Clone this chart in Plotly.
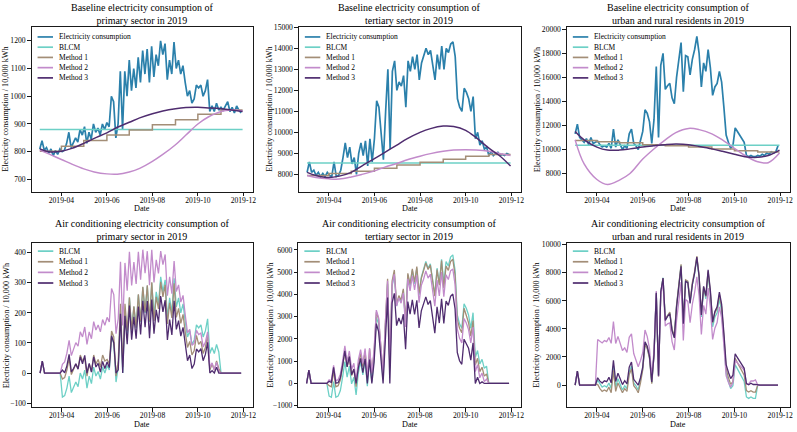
import pandas as pd
import plotly.graph_objects as go

W, H = 797, 432
FONT = "Liberation Serif"

# ---------------- data ----------------
grid_dates = pd.date_range("2019-03-03", periods=91, freq="3D")
curve_dates = pd.to_datetime([
    "2019-03-03", "2019-03-15", "2019-04-01", "2019-04-15", "2019-05-01", "2019-05-15",
    "2019-06-01", "2019-06-15", "2019-07-01", "2019-07-15", "2019-08-01", "2019-08-15",
    "2019-09-01", "2019-09-15", "2019-10-01", "2019-10-15", "2019-11-01", "2019-11-15",
    "2019-11-30"])
step_dates = pd.to_datetime([
    "2019-03-03", "2019-04-01", "2019-05-01", "2019-06-01", "2019-07-01", "2019-08-01",
    "2019-09-01", "2019-10-01", "2019-11-01", "2019-11-30"])
blcm_dates = pd.to_datetime(["2019-03-03", "2019-11-30"])

x_tick_vals = ["2019-04-01", "2019-06-01", "2019-08-01", "2019-10-01", "2019-12-01"]
x_tick_text = ["2019-04", "2019-06", "2019-08", "2019-10", "2019-12"]
x_range = ["2019-02-20", "2019-12-14"]

# --- primary sector ---
primary_elec = [810, 840, 805, 815, 795, 810, 785, 805, 790, 810,
                800, 805, 830, 870, 815, 830, 850, 835, 880, 860,
                890, 830, 870, 845, 900, 870, 885, 860, 900, 880,
                905, 890, 1000, 980, 850, 900, 1090, 880, 1090, 1000,
                1130, 1020, 1100, 1030, 1140, 1050, 1165, 1080, 1170, 1050,
                1180, 1070, 1150, 1110, 1200, 1150, 1190, 1060, 1130, 1080,
                1195, 1100, 1130, 1080, 1110, 1050, 1000, 1020, 975, 990,
                1040, 1030, 1040, 1000, 1020, 1060, 945, 965, 945, 975,
                950, 960, 950, 965, 980, 945, 960, 940, 965, 950, 940]
primary_blcm_level = 880
primary_m1_steps = [802, 820, 840, 860, 878, 897, 915, 935, 950, 950]
primary_m2_curve = [806, 792, 772, 755, 738, 727, 720, 719, 727, 740, 765, 790,
                    825, 860, 900, 925, 945, 950, 948]
primary_m3_curve = [810, 800, 802, 812, 830, 848, 868, 888, 906, 922, 937, 947,
                    955, 959, 960, 958, 955, 950, 945]

primary_ac_blcm = [0, 40, 0, 0, 0, 0, 0, 0, 0, 0,
                   -80, -75, -50, -10, -65, -50, -30, -45, 0, -20,
                   10, -50, -10, -35, 20, -10, 5, -20, 20, 0,
                   25, 10, 120, 100, -30, 20, 210, 0, 210, 120,
                   250, 140, 220, 150, 260, 170, 285, 200, 290, 170,
                   300, 190, 270, 230, 320, 270, 310, 180, 250, 200,
                   315, 220, 250, 200, 230, 170, 120, 140, 95, 110,
                   160, 150, 160, 120, 140, 180, 65, 85, 65, 95,
                   70, 0, 0, 0, 0, 0, 0, 0, 0, 0, 0]
primary_ac_m1 = [0, 40, 0, 0, 0, 0, 0, 0, 0, 0,
                 -20, -15, 10, 50, -5, 10, 30, 15, 60, 40,
                 50, -10, 30, 5, 60, 30, 45, 20, 60, 40,
                 45, 30, 140, 120, -10, 40, 230, 20, 230, 140,
                 252, 142, 222, 152, 262, 172, 287, 202, 292, 172,
                 302, 173, 253, 213, 303, 253, 293, 163, 233, 183,
                 298, 185, 215, 165, 195, 135, 85, 105, 60, 75,
                 125, 95, 105, 65, 85, 125, 10, 30, 10, 40,
                 15, 0, 0, 0, 0, 0, 0, 0, 0, 0, 0]
primary_ac_m2 = [0, 40, 0, 0, 0, 0, 0, 0, 0, 0,
                 29, 37, 66, 109, 58, 77, 101, 89, 137, 120,
                 153, 95, 137, 114, 171, 143, 160, 137, 178, 159,
                 185, 170, 281, 261, 131, 181, 370, 158, 366, 274,
                 403, 291, 369, 296, 403, 310, 410, 332, 405, 292,
                 410, 301, 376, 331, 405, 360, 394, 257, 320, 264,
                 372, 271, 293, 236, 258, 192, 134, 145, 92, 99,
                 142, 128, 133, 87, 102, 137, 18, 34, 10, 36,
                 7, 0, 0, 0, 0, 0, 0, 0, 0, 0, 0]
primary_ac_m3 = [0, 40, 0, 0, 0, 0, 0, 0, 0, 0,
                 10, 1, 24, 62, 4, 15, 31, 13, 54, 31,
                 59, 0, 32, 3, 54, 20, 32, 3, 39, 15,
                 37, 18, 124, 100, 0, 11, 197, 0, 190, 96,
                 224, 111, 187, 114, 221, 128, 240, 152, 239, 116,
                 244, 131, 210, 168, 256, 203, 242, 110, 178, 127,
                 240, 145, 174, 123, 152, 91, 41, 60, 15, 30,
                 80, 70, 81, 41, 62, 102, 0, 8, 0, 19,
                 0, 0, 0, 0, 0, 0, 0, 0, 0, 0, 0]

# --- tertiary sector ---
tertiary_elec = [8100, 8600, 8100, 8200, 7950, 8100, 7900, 8050, 7900, 8100,
                 7950, 7900, 8600, 7900, 7950, 8200, 8800, 9500, 8800, 9300,
                 8500, 8800, 8000, 9000, 9500, 8900, 9600, 8400, 9700, 8600,
                 9700, 11500, 11200, 10000, 8700, 11000, 13000, 9200, 12900, 13400,
                 12000, 12400, 12200, 12700, 11200, 13400, 12900, 13600, 13000, 13700,
                 12500, 13300, 13600, 14000, 13700, 13900, 13200, 12500, 13700, 13000,
                 14100, 13000, 14000, 13800, 14200, 14300, 13600, 11600, 11200, 11000,
                 12100, 11900, 11600, 11000, 11700, 9700, 10000, 9400, 9600, 9200,
                 9300, 8900, 9100, 8900, 9000, 9050, 8900, 8950, 8900, 9000, 8950]
tertiary_blcm_level = 8540
tertiary_m1_steps = [7950, 8050, 8150, 8300, 8450, 8580, 8720, 8870, 8950, 8950]
tertiary_m2_curve = [7950, 7850, 7790, 7782, 7880, 8000, 8170, 8350, 8520, 8700, 8870,
                     8990, 9100, 9160, 9180, 9160, 9100, 9000, 8900]
tertiary_m3_curve = [8100, 7950, 7850, 7920, 8100, 8400, 8750, 9050, 9400, 9700, 10000,
                     10180, 10300, 10280, 10100, 9750, 9250, 8900, 8400]

tertiary_ac_blcm = [0, 600, 0, 0, 0, 0, 0, 0, 0, 0,
                    -570, -620, 80, -620, -570, -320, 280, 980, 280, 780,
                    -20, 280, -520, 480, 980, 380, 1080, -120, 1180, 80,
                    1180, 2980, 2680, 1480, 180, 2480, 4480, 680, 4380, 4880,
                    3480, 3880, 3680, 4180, 2680, 4880, 4380, 5080, 4480, 5180,
                    3980, 4780, 5080, 5480, 5180, 5380, 4680, 3980, 5180, 4480,
                    5580, 4480, 5480, 5280, 5680, 5780, 5080, 3080, 2680, 2480,
                    3580, 3380, 3080, 2480, 3180, 1180, 1480, 880, 1080, 680,
                    780, 0, 0, 0, 0, 0, 0, 0, 0, 0, 0]
tertiary_ac_m1 = [0, 600, 0, 0, 0, 0, 0, 0, 0, 0,
                  -100, -150, 550, -150, -100, 150, 750, 1450, 750, 1250,
                  350, 650, -150, 850, 1350, 750, 1450, 250, 1550, 450,
                  1400, 3200, 2900, 1700, 400, 2700, 4700, 900, 4600, 5100,
                  3550, 3950, 3750, 4250, 2750, 4950, 4450, 5150, 4550, 5250,
                  4050, 4720, 5020, 5420, 5120, 5320, 4620, 3920, 5120, 4420,
                  5520, 4280, 5280, 5080, 5480, 5580, 4880, 2880, 2480, 2280,
                  3380, 3030, 2730, 2130, 2830, 830, 1130, 530, 730, 330,
                  430, 0, 0, 0, 0, 0, 0, 0, 0, 0, 0]
tertiary_ac_m2 = [0, 600, 0, 0, 0, 0, 0, 0, 0, 0,
                  160, 115, 818, 120, 169, 415, 1005, 1695, 980, 1460,
                  630, 905, 80, 1055, 1525, 895, 1565, 330, 1595, 460,
                  1530, 3295, 2960, 1725, 390, 2650, 4615, 780, 4445, 4910,
                  3480, 3845, 3610, 4070, 2535, 4700, 4165, 4835, 4200, 4865,
                  3635, 4410, 4685, 5060, 4735, 4910, 4190, 3470, 4650, 3930,
                  5010, 3895, 4885, 4670, 5060, 5145, 4440, 2435, 2030, 1825,
                  2920, 2720, 2422, 1825, 2530, 535, 845, 255, 465, 80,
                  195, 0, 0, 0, 0, 0, 0, 0, 0, 0, 0]
tertiary_ac_m3 = [0, 600, 0, 0, 0, 0, 0, 0, 0, 0,
                  100, 40, 725, 10, 35, 250, 810, 1470, 740, 1210,
                  390, 640, 0, 700, 1130, 480, 1110, 0, 1070, 0,
                  950, 2690, 2330, 1060, 0, 1930, 3860, 0, 3620, 4050,
                  2600, 2940, 2670, 3110, 1540, 3680, 3120, 3760, 3100, 3740,
                  2500, 3260, 3530, 3890, 3550, 3720, 2990, 2260, 3440, 2715,
                  3800, 2700, 3705, 3510, 3915, 4020, 3350, 1390, 1020, 860,
                  1990, 1810, 1580, 1050, 1820, 0, 280, 0, 70, 0,
                  0, 0, 0, 0, 0, 0, 0, 0, 0, 0, 0]

# --- urban and rural residents ---
resident_elec = [11300, 12100, 11000, 10800, 10600, 10900, 10400, 11000, 10500, 10600,
                 10700, 10400, 10200, 10300, 10200, 10500, 10100, 11700, 10200, 10800,
                 10400, 10000, 10300, 10100, 11300, 11700, 10500, 10300, 10000, 10700,
                 11500, 13300, 13000, 12300, 10500, 12500, 16900, 11000, 17000, 18000,
                 15000, 15300, 15500, 14300, 13800, 16000, 17700, 18900, 14800, 17800,
                 17700, 16200, 17500, 18300, 19400, 18000, 15200, 17200, 16500, 18300,
                 16800, 14500, 15200, 15500, 16500, 15600, 13500, 11200, 10600, 10100,
                 10300, 11800, 11500, 11200, 10900, 10600, 9500, 9400, 9500, 9400,
                 9400, 9500, 9450, 9600, 9500, 9700, 9600, 9800, 9700, 9800, 10300]
resident_blcm_level = 10350
resident_m1_steps = [10750, 10650, 10550, 10400, 10300, 10200, 10050, 9900, 9800, 9800]
resident_m2_curve = [10800, 8800, 7500, 7080, 7450, 8000, 9200, 10000, 10800, 11400, 11750,
                     11650, 11300, 10800, 10100, 9500, 8980, 8900, 9700]
resident_m3_curve = [11500, 10800, 10200, 9950, 9950, 10050, 10200, 10300, 10400, 10450,
                     10400, 10250, 10050, 9850, 9600, 9400, 9350, 9500, 9950]

resident_ac_blcm = [0, 1000, 0, 0, 0, 0, 0, 0, 0, 0,
                    350, 50, -150, -50, -150, 150, -250, 1350, -150, 450,
                    50, -350, -50, -250, 950, 1350, 150, -50, -350, 350,
                    1150, 2950, 2650, 1950, 150, 2150, 6550, 650, 6650, 7650,
                    4650, 4950, 5150, 3950, 3450, 5650, 7350, 8550, 4450, 7450,
                    7350, 5850, 7150, 7950, 9050, 7650, 4850, 6850, 6150, 7950,
                    6450, 4150, 4850, 5150, 6150, 5250, 3150, 850, 250, -250,
                    -50, 1450, 1150, 850, 550, 250, -850, -950, -850, -950,
                    -950, 0, 0, 0, 0, 0, 0, 0, 0, 0, 0]
resident_ac_m1 = [0, 1000, 0, 0, 0, 0, 0, 0, 0, 0,
                  50, -250, -450, -350, -450, -150, -550, 1050, -450, 150,
                  -150, -550, -250, -450, 750, 1150, -50, -250, -550, 150,
                  1100, 2900, 2600, 1900, 100, 2100, 6500, 600, 6600, 7600,
                  4700, 5000, 5200, 4000, 3500, 5700, 7400, 8600, 4500, 7500,
                  7400, 6000, 7300, 8100, 9200, 7800, 5000, 7000, 6300, 8100,
                  6600, 4450, 5150, 5450, 6450, 5550, 3450, 1150, 550, 50,
                  250, 1900, 1600, 1300, 1000, 700, -400, -500, -400, -500,
                  -500, 0, 0, 0, 0, 0, 0, 0, 0, 0, 0]
resident_ac_m2 = [0, 1000, 0, 0, 0, 0, 0, 0, 0, 0,
                  3250, 3100, 3000, 3170, 3100, 3390, 2970, 4530, 2960, 3470,
                  2970, 2460, 2650, 2330, 3400, 3650, 2250, 1820, 1300, 1750,
                  2300, 3920, 3450, 2580, 620, 2460, 6700, 620, 6450, 7300,
                  4200, 4360, 4430, 3100, 2500, 4600, 6220, 7340, 3170, 6100,
                  5960, 4450, 5760, 6580, 7710, 6350, 3600, 5670, 5050, 6920,
                  5490, 3250, 4050, 4450, 5580, 4780, 2820, 660, 200, -150,
                  180, 1750, 1580, 1410, 1240, 1060, 80, 90, 300, 290,
                  370, 0, 0, 0, 0, 0, 0, 0, 0, 0, 0]
resident_ac_m3 = [0, 1000, 0, 0, 0, 0, 0, 0, 0, 0,
                  520, 280, 140, 300, 240, 550, 155, 1755, 255, 850,
                  450, 30, 310, 90, 1270, 1640, 410, 180, 0, 520,
                  1300, 3080, 2760, 2040, 220, 2200, 6580, 660, 6640, 7620,
                  4600, 4890, 5080, 3870, 3360, 5550, 7255, 8465, 4375, 7390,
                  7300, 5820, 7150, 7980, 9120, 7750, 4990, 7030, 6370, 8210,
                  6750, 4490, 5240, 5580, 6620, 5750, 3700, 1460, 910, 460,
                  700, 2220, 1960, 1700, 1450, 1190, 110, 20, 130, 40,
                  50, 0, 0, 0, 0, 0, 0, 0, 0, 0, 0]

# ---------------- styling ----------------
COLORS = {
    "Electricity consumption": "#2b80ab",
    "BLCM": "#6dd0c6",
    "Method 1": "#a38e77",
    "Method 2": "#c28bcb",
    "Method 3": "#4f2c6f",
}
Y_LABEL = "Electricity consumption / 10,000 kWh"


def sx(p):
    return p / W


def sy(p):
    return 1 - p / H


def base_traces(elec, level, m1, m2, m3):
    return [
        ("Electricity consumption", grid_dates, elec, "linear"),
        ("BLCM", blcm_dates, [level, level], "linear"),
        ("Method 1", step_dates, m1, "hv"),
        ("Method 2", curve_dates, m2, "spline"),
        ("Method 3", curve_dates, m3, "spline"),
    ]


def ac_traces(b, m1, m2, m3):
    return [
        ("BLCM", grid_dates, b, "linear"),
        ("Method 1", grid_dates, m1, "linear"),
        ("Method 2", grid_dates, m2, "linear"),
        ("Method 3", grid_dates, m3, "linear"),
    ]


panels = [
    dict(title="Baseline electricity consumption of<br>primary sector in 2019",
         box=(31.7, 23, 254, 191), yr=[655, 1251], t0=700, dt=100, ylx=5.5,
         traces=base_traces(primary_elec, primary_blcm_level, primary_m1_steps,
                            primary_m2_curve, primary_m3_curve), leg0=10.5, legdy=10.4),
    dict(title="Baseline electricity consumption of<br>tertiary sector in 2019",
         box=(300, 23, 523, 191), yr=[7170, 15030], t0=8000, dt=1000, ylx=270.5,
         traces=base_traces(tertiary_elec, tertiary_blcm_level, tertiary_m1_steps,
                            tertiary_m2_curve, tertiary_m3_curve), leg0=10.5, legdy=10.4),
    dict(title="Baseline electricity consumption of<br>urban and rural residents in 2019",
         box=(569, 23, 793, 191), yr=[6470, 20220], t0=8000, dt=2000, ylx=539,
         traces=base_traces(resident_elec, resident_blcm_level, resident_m1_steps,
                            resident_m2_curve, resident_m3_curve), leg0=10.5, legdy=10.4),
    dict(title="Air conditioning electricity consumption of<br>primary sector in 2019",
         box=(32, 243, 254, 410), yr=[-114, 432], t0=-100, dt=100, ylx=6,
         traces=ac_traces(primary_ac_blcm, primary_ac_m1, primary_ac_m2, primary_ac_m3),
         leg0=8.2, legdy=10.8),
    dict(title="Air conditioning electricity consumption of<br>tertiary sector in 2019",
         box=(299.5, 243, 523, 410), yr=[-1075, 6310], t0=-1000, dt=1000, ylx=271.5,
         traces=ac_traces(tertiary_ac_blcm, tertiary_ac_m1, tertiary_ac_m2, tertiary_ac_m3),
         leg0=8.2, legdy=10.8),
    dict(title="Air conditioning electricity consumption of<br>urban and rural residents in 2019",
         box=(569, 243, 793, 410), yr=[-1590, 10120], t0=0, dt=2000, ylx=538.5,
         traces=ac_traces(resident_ac_blcm, resident_ac_m1, resident_ac_m2, resident_ac_m3),
         leg0=8.2, legdy=10.8),
]

fig = go.Figure()
layout = dict(width=W, height=H, margin=dict(l=0, r=0, t=0, b=0),
              paper_bgcolor="white", plot_bgcolor="white", showlegend=False,
              font=dict(family=FONT, color="black"))
shapes, annotations = [], []

for i, p in enumerate(panels, start=1):
    x0, y0, x1, y1 = p["box"]
    xname = "x" if i == 1 else f"x{i}"
    yname = "y" if i == 1 else f"y{i}"
    axis_common = dict(showline=True, mirror=True, linecolor="#1a1a1a", linewidth=1,
                       ticks="outside", ticklen=3.5, tickwidth=0.8, tickcolor="#1a1a1a",
                       showgrid=False, zeroline=False,
                       tickfont=dict(family=FONT, size=7.6, color="black"))
    layout["xaxis" if i == 1 else f"xaxis{i}"] = dict(
        domain=[sx(x0), sx(x1)], anchor=yname, type="date", range=x_range,
        tickmode="array", tickvals=x_tick_vals, ticktext=x_tick_text,
        ticklabelstandoff=-3, **axis_common)
    layout["yaxis" if i == 1 else f"yaxis{i}"] = dict(
        domain=[sy(y1), sy(y0)], anchor=xname, range=p["yr"], tick0=p["t0"],
        dtick=p["dt"], tickformat="d", **axis_common)

    for name, xs, ys, shape in p["traces"]:
        width = 1.7 if name == "Electricity consumption" else (1.5 if i <= 3 else 1.3)
        fig.add_trace(go.Scatter(x=xs, y=ys, mode="lines", name=name,
                                 line=dict(color=COLORS[name], width=width, shape=shape),
                                 xaxis=xname, yaxis=yname))

    # legend (manual, matplotlib-like, no frame)
    for j, (name, _, _, _) in enumerate(p["traces"]):
        yy = y0 + p["leg0"] + j * p["legdy"]
        shapes.append(dict(type="line", xref="paper", yref="paper",
                           x0=sx(x0 + 6), x1=sx(x0 + 21.5), y0=sy(yy), y1=sy(yy),
                           line=dict(color=COLORS[name], width=1.7)))
        annotations.append(dict(text=name, xref="paper", yref="paper",
                                x=sx(x0 + 25.6), y=sy(yy), xanchor="left", yanchor="middle",
                                showarrow=False, font=dict(family=FONT, size=7.5, color="black")))

    # title
    annotations.append(dict(text=p["title"], xref="paper", yref="paper",
                            x=sx((x0 + x1) / 2), y=sy(y0 - 13.3), xanchor="center",
                            yanchor="middle", showarrow=False, align="center",
                            font=dict(family=FONT, size=10, color="black")))
    # axis titles
    annotations.append(dict(text="Date", xref="paper", yref="paper",
                            x=sx((x0 + x1) / 2), y=sy(y1 + 17), xanchor="center",
                            yanchor="middle", showarrow=False,
                            font=dict(family=FONT, size=8.2, color="black")))
    annotations.append(dict(text=Y_LABEL, xref="paper", yref="paper",
                            x=sx(p["ylx"]), y=sy((y0 + y1) / 2), xanchor="center",
                            yanchor="middle", textangle=-90, showarrow=False,
                            font=dict(family=FONT, size=8.2, color="black")))

layout["shapes"] = shapes
layout["annotations"] = annotations
fig.update_layout(**layout)
fig.write_html("out.html")
